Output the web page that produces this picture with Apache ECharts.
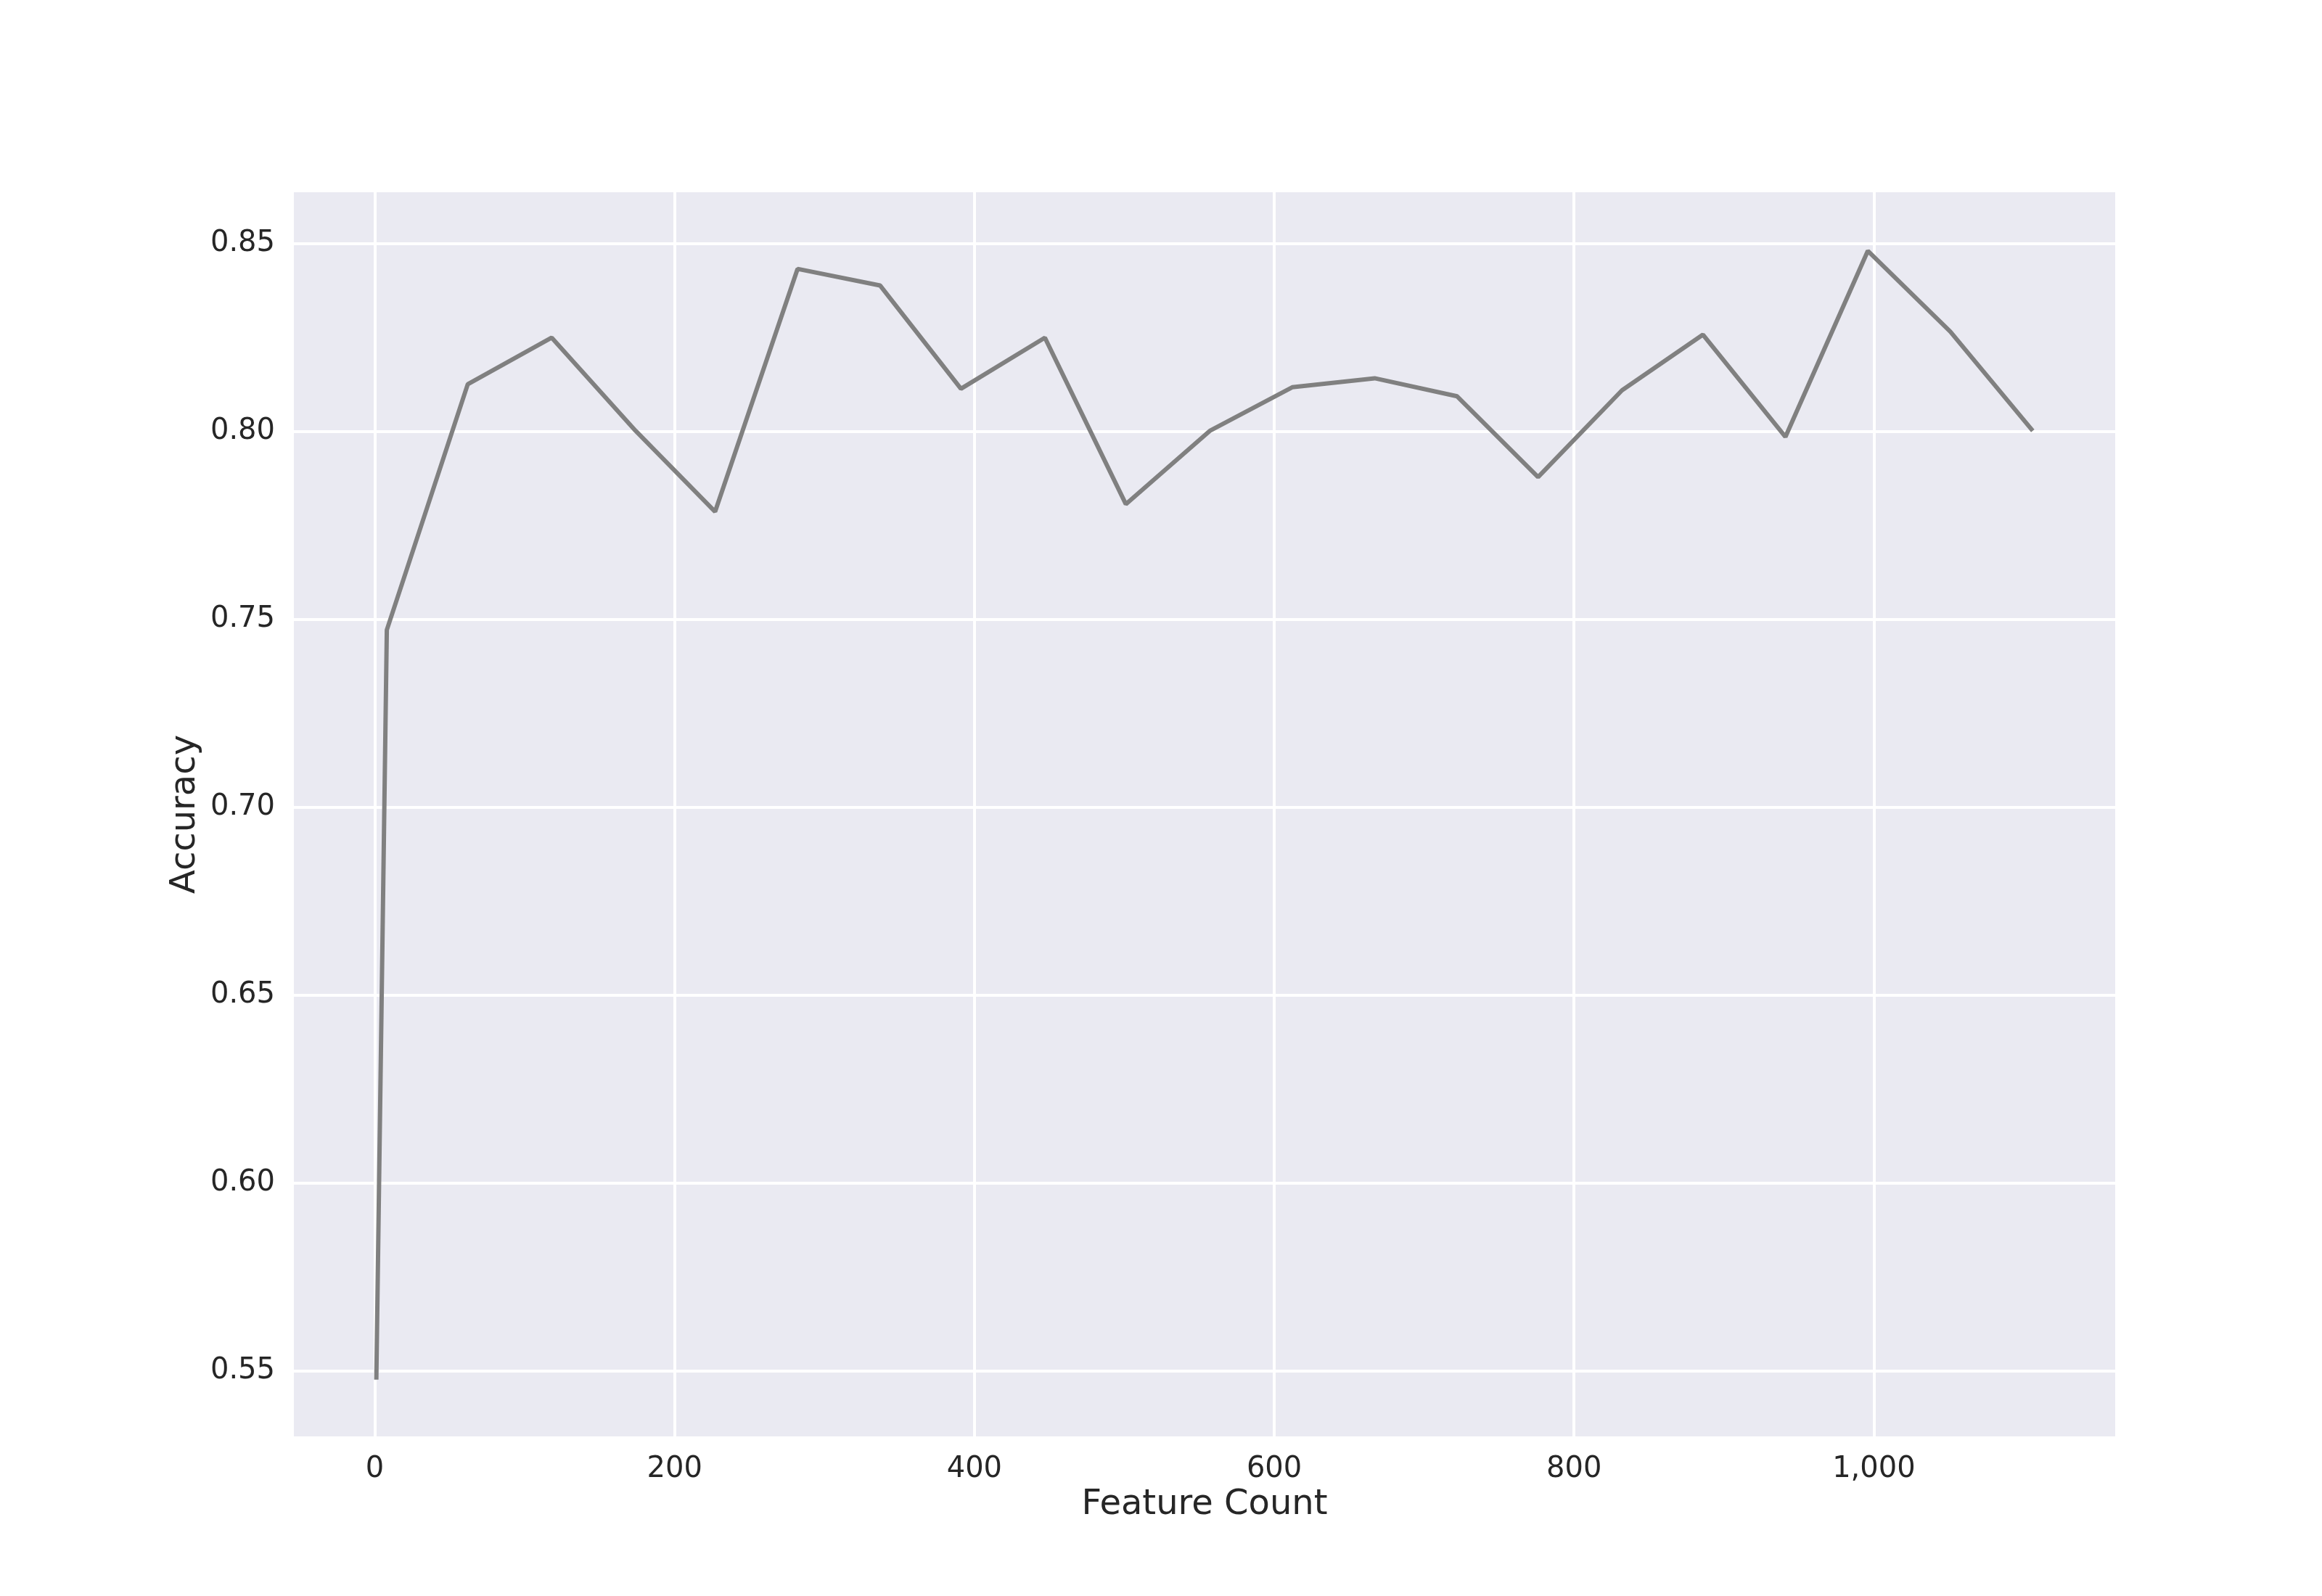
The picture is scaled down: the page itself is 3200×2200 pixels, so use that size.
<!DOCTYPE html>
<html><head><meta charset="utf-8">
<script src="https://cdn.jsdelivr.net/npm/echarts@6/dist/echarts.min.js"></script>
<style>html,body{margin:0;padding:0;background:#fff}#c{width:3200px;height:2200px}</style>
</head><body><div id="c"></div>
<script>
const featureCount = [1, 8, 62, 118, 174, 227, 282, 337, 391, 447, 501, 557, 612, 667, 722, 776, 832, 886, 941, 996, 1051, 1106];
const accuracy = [0.5476, 0.7471, 0.8125, 0.8249, 0.8001, 0.7786, 0.8432, 0.8388, 0.8113, 0.8249, 0.7806, 0.8001, 0.8117, 0.8141, 0.8093, 0.7878, 0.8109, 0.8257, 0.7985, 0.848, 0.8265, 0.8001];
const xTicks = [0, 200, 400, 600, 800, 1000];
const yTicks = [0.55, 0.60, 0.65, 0.70, 0.75, 0.80, 0.85];
const chart = echarts.init(document.getElementById('c'));
chart.setOption({
  animation: false,
  grid: {left: 405, right: 285, top: 265, bottom: 220, show: true, backgroundColor: '#EAEAF2', borderWidth: 0},
  xAxis: {
    type: 'value', min: -54, max: 1161,
    name: 'Feature Count', nameLocation: 'middle', nameGap: 68,
    nameTextStyle: {fontSize: 48, color: '#262626', fontFamily: 'DejaVu Sans'},
    axisLine: {show: false},
    axisTick: {show: false, customValues: xTicks},
    axisLabel: {fontSize: 40, color: '#262626', margin: 26, fontFamily: 'DejaVu Sans', customValues: xTicks},
    splitLine: {lineStyle: {color: '#ffffff', width: 4}}
  },
  yAxis: {
    type: 'value', min: 0.5325, max: 0.8636,
    name: 'Accuracy', nameLocation: 'middle', nameGap: 120,
    nameTextStyle: {fontSize: 48, color: '#262626', fontFamily: 'DejaVu Sans'},
    axisLine: {show: false},
    axisTick: {show: false, customValues: yTicks},
    axisLabel: {fontSize: 40, color: '#262626', margin: 26, fontFamily: 'DejaVu Sans', customValues: yTicks,
      formatter: v => v.toFixed(2)},
    splitLine: {lineStyle: {color: '#ffffff', width: 4}}
  },
  series: [{
    type: 'line', data: featureCount.map((x, i) => [x, accuracy[i]]),
    showSymbol: false, lineStyle: {color: '#808080', width: 6}
  }]
});
</script></body></html>
